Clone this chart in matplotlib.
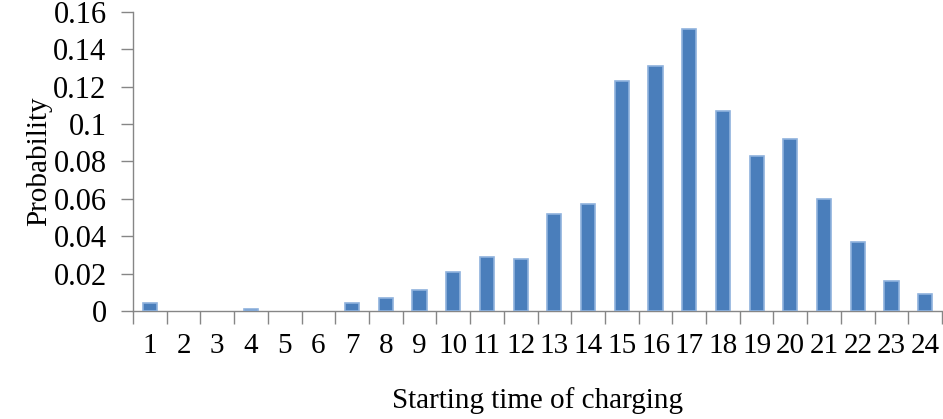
import matplotlib
matplotlib.use("Agg")
import matplotlib.pyplot as plt
from matplotlib.ticker import FuncFormatter, FixedLocator

# starting hour of charging and its probability
hours = list(range(1, 25))
probability = [0.004, 0.0, 0.0, 0.001, 0.0, 0.0, 0.004, 0.007, 0.011, 0.021,
               0.029, 0.028, 0.052, 0.057, 0.123, 0.131, 0.151, 0.107, 0.083, 0.092,
               0.060, 0.037, 0.016, 0.009]
yTicks = [0, 0.02, 0.04, 0.06, 0.08, 0.1, 0.12, 0.14, 0.16]

#====================================================================================================

def main():

    plt.rcParams['font.family'] = ['Liberation Serif', 'DejaVu Serif']
    axisColor = "#868686"

    fig = plt.figure(figsize = (9.43, 4.19), dpi = 100)
    axis = fig.add_axes([0.141, 0.258, 0.858, 0.714])

    pos = list(range(len(hours)))
    # no outline on empty bars
    edgeWidths = [1.2 if p > 0 else 0 for p in probability]
    axis.bar(pos, probability, width = 0.42, color = "#4A7EBB",
             edgecolor = "#8FB2DD", linewidth = edgeWidths, zorder = 3)

    axis.set_xlim(-0.5, len(hours) - 0.5)
    axis.set_ylim(0, 0.16)

    axis.set_yticks(yTicks)
    axis.yaxis.set_major_formatter(FuncFormatter(lambda v, p: "%g" % v))

    # labels centred on categories, tick marks on category boundaries
    axis.set_xticks(pos)
    axis.set_xticklabels([str(h) for h in hours])
    axis.xaxis.set_minor_locator(FixedLocator([p - 0.5 for p in pos] + [len(hours) - 0.5]))
    axis.tick_params(axis = "x", which = "major", length = 0, pad = 16, labelsize = 21)
    axis.tick_params(axis = "x", which = "minor", length = 9, width = 1, color = axisColor, direction = "out")
    axis.tick_params(axis = "y", which = "major", length = 9, width = 1, color = axisColor,
                     direction = "out", pad = 10, labelsize = 22)

    for side in ["top", "right"]:
        axis.spines[side].set_visible(False)
    for side in ["left", "bottom"]:
        axis.spines[side].set_color(axisColor)
        axis.spines[side].set_linewidth(1)

    axis.set_ylabel("Probability", fontsize = 21, labelpad = 1)
    axis.set_xlabel("Starting time of charging", fontsize = 21, labelpad = 20)

    fig.savefig("out.png", dpi = 100)

#====================================================================================================

if __name__ == "__main__":
    main()
